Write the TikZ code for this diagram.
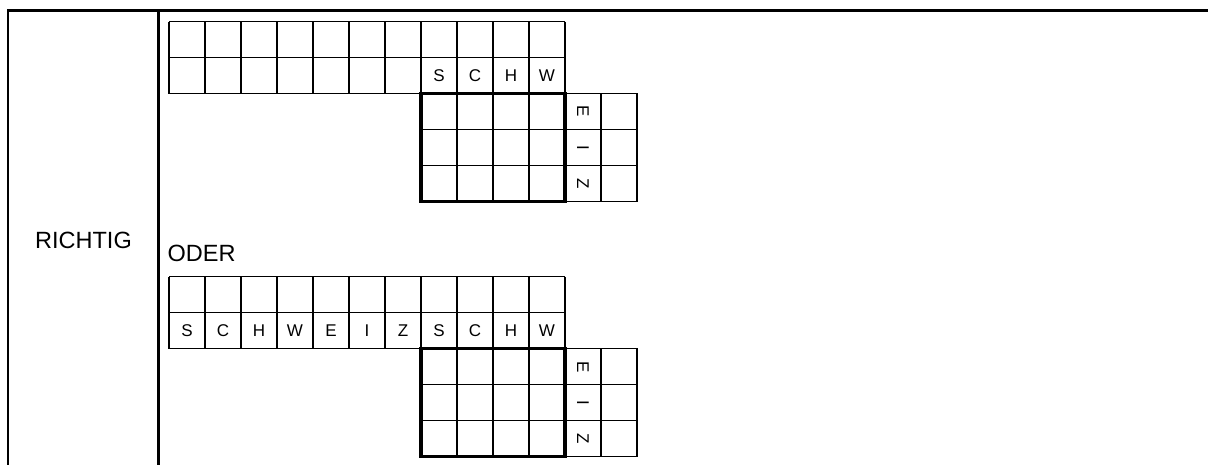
\documentclass[tikz,border=0pt]{standalone}
\usepackage{fontspec}
\setmainfont{Liberation Sans}
\begin{document}
\begin{tikzpicture}[x=1pt,y=-1pt,
  frame/.style={line width=2.8pt,black},
  thinline/.style={line width=1.2pt,black},
  midline/.style={line width=2pt,black},
  heavy/.style={line width=3.2pt,black,line cap=rect},
  letter/.style={font=\fontsize{17}{19}\selectfont,inner sep=0pt,anchor=center},
  rletter/.style={letter,rotate=-90},
  label/.style={font=\fontsize{23.5}{26}\selectfont,inner sep=0pt}]
\useasboundingbox (0,0) rectangle (1208,464);
\fill[white] (0,0) rectangle (1208,464);
% table frame
\draw[frame] (8,466) -- (8,10.3) -- (1210,10.3);
\draw[frame] (158.3,10.3) -- (158.3,466);
\node[label] (richtig) at (83.5,240) {RICHTIG};
\node[label,anchor=base west] (oder) at (167.5,261.7) {ODER};
% two crossword blocks
\foreach \Y/\b in {21.5/a,276.7/b}{
  % upper two rows
  \foreach \i in {0,...,11}
    \draw[thinline] ({169+36*\i},\Y) -- ({169+36*\i},\Y+72);
  \foreach \j in {0,1,2}
    \draw[thinline] (169,\Y+36*\j) -- (565,\Y+36*\j);
  \draw[midline] (313,\Y) -- (313,\Y+72);
  \draw[midline] (421,\Y) -- (421,\Y+72);
  % lower block
  \foreach \i in {1,2,3}
    \draw[thinline] ({421+36*\i},\Y+72) -- ({421+36*\i},\Y+180);
  \foreach \j in {1,2}
    \draw[thinline] (421,\Y+72+36*\j) -- (637,\Y+72+36*\j);
  \draw[thinline] (565,\Y+72) -- (637,\Y+72) -- (637,\Y+180) -- (565,\Y+180);
  \draw[thinline] (601,\Y+72) -- (601,\Y+180);
  \draw[heavy] (421,\Y+72) -- (565,\Y+72) -- (565,\Y+180) -- (421,\Y+180) -- cycle;
  % rotated letters
  \node[rletter] (\b E) at (583,\Y+90) {E};
  \node[rletter] (\b I) at (583,\Y+126) {I};
  \node[rletter] (\b Z) at (583,\Y+162) {Z};
}
% letters in top block
\foreach \c/\l in {7/S,8/C,9/H,10/W}
  \node[letter] (a\c) at ({187+36*\c},75.5) {\l};
% letters in bottom block
\foreach \c/\l in {0/S,1/C,2/H,3/W,4/E,5/I,6/Z,7/S,8/C,9/H,10/W}
  \node[letter] (b\c) at ({187+36*\c},330.7) {\l};
\end{tikzpicture}
\end{document}
